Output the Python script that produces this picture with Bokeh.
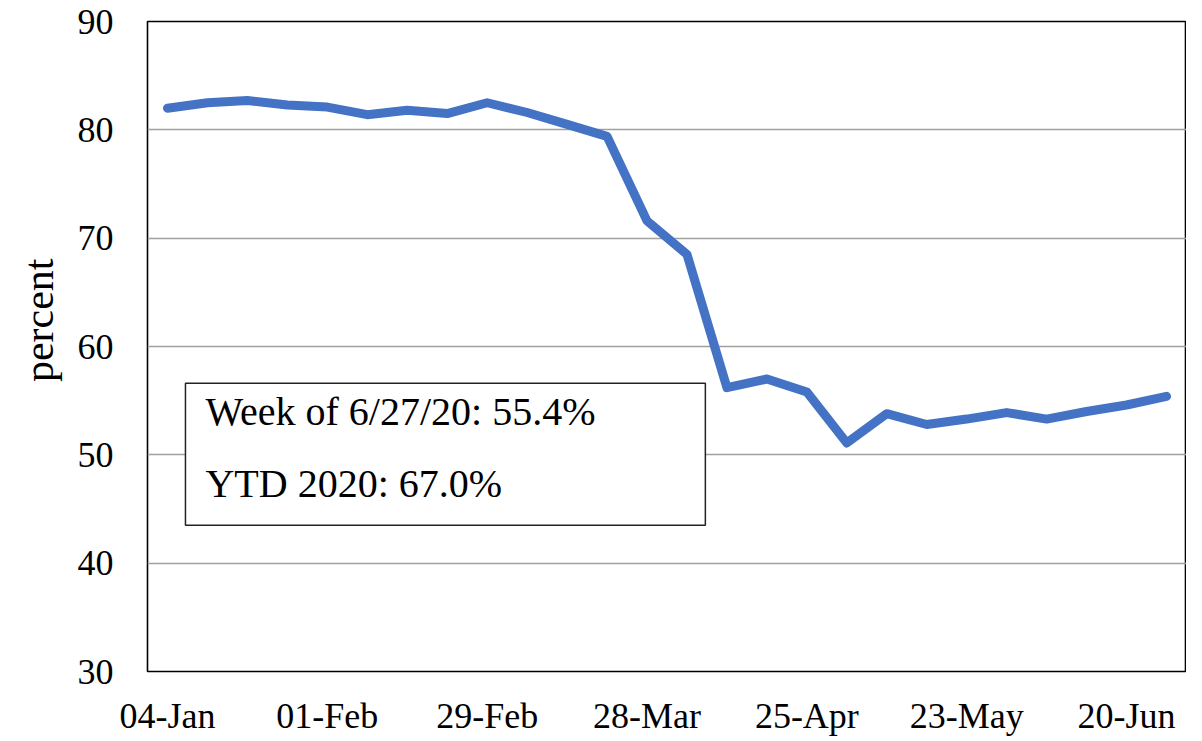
from bokeh.plotting import figure
from bokeh.models import Range1d, FixedTicker, BoxAnnotation, Label, Title
from bokeh.embed import file_html
from bokeh.resources import INLINE

weeks = ["04-Jan", "11-Jan", "18-Jan", "25-Jan", "01-Feb", "08-Feb", "15-Feb", "22-Feb",
         "29-Feb", "07-Mar", "14-Mar", "21-Mar", "28-Mar", "04-Apr", "11-Apr", "18-Apr",
         "25-Apr", "02-May", "09-May", "16-May", "23-May", "30-May", "06-Jun", "13-Jun",
         "20-Jun", "27-Jun"]
occupancy = [82.0, 82.5, 82.7, 82.3, 82.1, 81.4, 81.8, 81.5, 82.5, 81.6, 80.5, 79.4,
             71.6, 68.5, 56.2, 57.0, 55.8, 51.1, 53.8, 52.8, 53.3, 53.9, 53.3, 54.0,
             54.6, 55.4]
tick_every = 4
y_ticks = [30, 40, 50, 60, 70, 80, 90]
box_lines = ["Week of 6/27/20: 55.4%", "YTD 2020: 67.0%"]
y_title = "percent"

FONT = "Liberation Serif"
idx = list(range(len(weeks)))

p = figure(frame_width=1039, frame_height=650,
           min_border_left=147, min_border_right=0, min_border_top=21, min_border_bottom=62,
           x_range=Range1d(-0.5, len(weeks) - 0.5), y_range=Range1d(30, 90),
           output_backend="svg", toolbar_location=None)

p.line(idx, occupancy, line_color="#4472C4", line_width=9,
       line_join="round", line_cap="round")

# axes
p.xaxis.ticker = FixedTicker(ticks=idx[::tick_every])
p.xaxis.major_label_overrides = {i: weeks[i] for i in idx[::tick_every]}
p.yaxis.ticker = FixedTicker(ticks=y_ticks)
for ax in (p.xaxis, p.yaxis):
    ax.major_label_text_font = FONT
    ax.major_label_text_font_size = "36px"
    ax.major_label_text_color = "black"
    ax.major_tick_line_color = None
    ax.minor_tick_line_color = None
    ax.major_tick_out = 0
    ax.major_tick_in = 0
    ax.axis_line_color = None
p.xaxis.major_label_standoff = 24
p.yaxis.major_label_standoff = 34

p.xgrid.grid_line_color = None
p.ygrid.grid_line_color = "#a0a0a0"
p.ygrid.grid_line_width = 1.3

p.outline_line_color = "black"
p.outline_line_width = 1.6
p.background_fill_color = "white"
p.border_fill_color = "white"

# y-axis title, as a side title (slightly above the frame centre, like the reference)
p.add_layout(Title(text=y_title, align="right", offset=237, standoff=26,
                   text_font=FONT, text_font_size="42px", text_font_style="normal",
                   text_color="black"), "left")

# text box
p.add_layout(BoxAnnotation(left=0.45, right=13.46, bottom=43.5, top=56.6,
                           fill_color="white", fill_alpha=1.0,
                           line_color="#222222", line_alpha=1.0, line_width=1.5))
for txt, yy in zip(box_lines, [54.0, 47.35]):
    p.add_layout(Label(x=0.95, y=yy, text=txt, text_font=FONT, text_font_size="40px",
                       text_color="black", text_baseline="alphabetic"))

open("out.html", "w").write(file_html(p, INLINE))
